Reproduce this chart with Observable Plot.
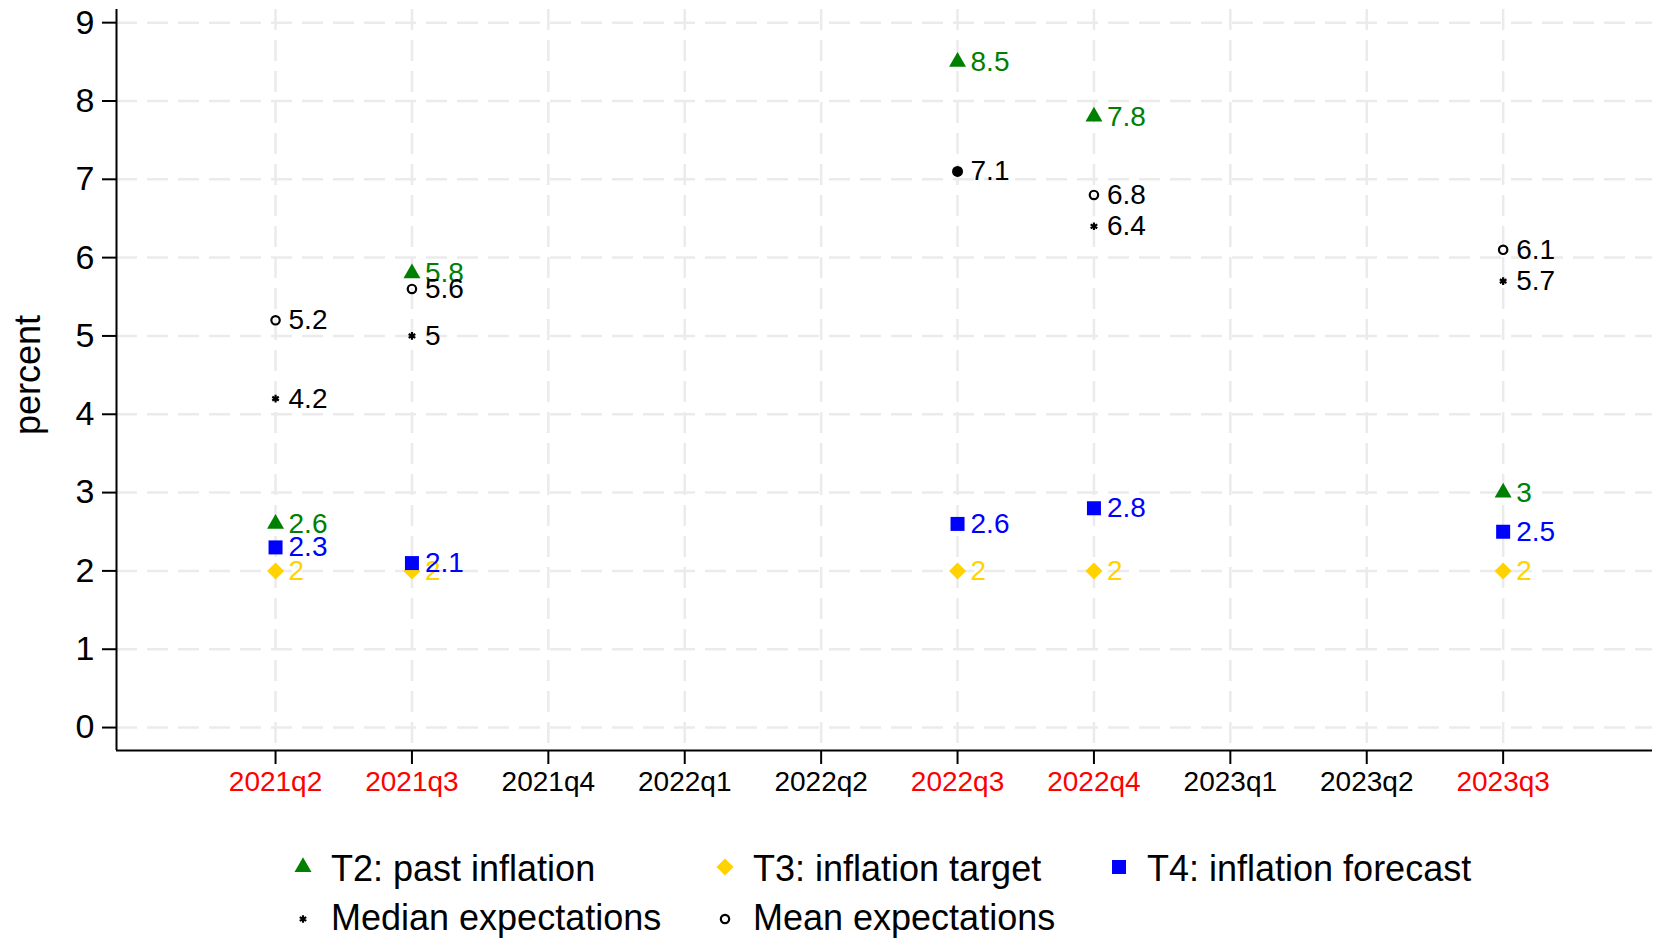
<!DOCTYPE html>
<html><head><meta charset="utf-8">
<script src="https://cdn.jsdelivr.net/npm/d3@7"></script>
<script src="https://cdn.jsdelivr.net/npm/@observablehq/plot@0.6"></script>
<style>
body{margin:0;background:#fff;font-family:"Liberation Sans",Arial,sans-serif;}
#chart svg,#legend svg{display:block}
</style></head><body><div id="chart"></div><div id="legend"></div>
<script>
// ---- data ----
const quarters = ["2021q2","2021q3","2021q4","2022q1","2022q2","2022q3","2022q4","2023q1","2023q2","2023q3"];
const surveyQuarters = ["2021q2","2021q3","2022q3","2022q4","2023q3"];
const pastInflation = [2.6, 5.8, 8.5, 7.8, 3];
const inflationTarget = [2, 2, 2, 2, 2];
const inflationForecast = [2.3, 2.1, 2.6, 2.8, 2.5];
const medianExpectations = [4.2, 5, 7.1, 6.4, 5.7];
const meanExpectations = [5.2, 5.6, 7.1, 6.8, 6.1];
const yTicks = [0,1,2,3,4,5,6,7,8,9];
const legendLabels = ["T2: past inflation","T3: inflation target","T4: inflation forecast","Median expectations","Mean expectations"];

// ---- derived tables ----
const rows = surveyQuarters.map((q, i) => ({
  q, xi: quarters.indexOf(q),
  past: pastInflation[i], target: inflationTarget[i], forecast: inflationForecast[i],
  median: medianExpectations[i], mean: meanExpectations[i]
}));
const qIdx = quarters.map((q, i) => ({q, i, survey: surveyQuarters.includes(q)}));
const xTicks = quarters.map((q, i) => i);

const GREEN = "#008000", GOLD = "#FFD200", BLUE = "#0000FF", RED = "#FF0000";
const FONT = '"Liberation Sans", Arial, sans-serif';
const xDom = [-1.166, 10.095], yDom = [-0.293, 9.168];
const grid = {stroke: "#ebebeb", strokeOpacity: 1, strokeWidth: 2.5, strokeDasharray: "21,10"};
const lab = (field, fill, extra = {}) => Plot.text(rows, {
  x: "xi", y: field, text: d => String(d[field]), fill, fontSize: 28,
  textAnchor: "start", dx: 13, ...extra
});

const chart = Plot.plot({
  width: 1658, height: 810,
  marginLeft: 116, marginRight: 6, marginTop: 9, marginBottom: 60,
  style: {fontFamily: FONT, background: "white", color: "black"},
  x: {type: "linear", domain: xDom},
  y: {type: "linear", domain: yDom},
  marks: [
    Plot.gridX({ticks: xTicks, ...grid}),
    Plot.gridY({ticks: yTicks, ...grid}),
    Plot.ruleX([xDom[0]], {stroke: "black", strokeWidth: 2}),
    Plot.ruleY([yDom[0]], {stroke: "black", strokeWidth: 2}),
    Plot.axisY({ticks: yTicks, tickSize: 14, tickPadding: 8, fontSize: 34, strokeWidth: 2, label: null}),
    Plot.axisX({ticks: xTicks, tickSize: 14, tickFormat: () => "", strokeWidth: 2, label: null}),
    Plot.text(qIdx.filter(d => d.survey), {x: "i", text: "q", frameAnchor: "bottom", dy: 40, fill: RED, fontSize: 28}),
    Plot.text(qIdx.filter(d => !d.survey), {x: "i", text: "q", frameAnchor: "bottom", dy: 40, fill: "black", fontSize: 28}),
    Plot.text(["percent"], {text: d => d, frameAnchor: "left", textAnchor: "middle", rotate: -90, dx: -88, dy: -5, fontSize: 36, fill: "black"}),
    // T2 past inflation
    Plot.dot(rows, {x: "xi", y: "past", symbol: "triangle", r: 6.3, fill: GREEN}),
    lab("past", GREEN),
    // T3 inflation target
    Plot.dot(rows, {x: "xi", y: "target", symbol: "diamond2", r: 7.66, fill: GOLD}),
    lab("target", GOLD),
    // T4 inflation forecast
    Plot.dot(rows, {x: "xi", y: "forecast", symbol: "square", r: 7.9, fill: BLUE}),
    lab("forecast", BLUE),
    // Median expectations
    Plot.dot(rows, {x: "xi", y: "median", symbol: "asterisk", r: 3.6, stroke: "black", strokeWidth: 2.2}),
    lab("median", "black", {filter: d => d.median !== d.mean}),
    // Mean expectations
    Plot.dot(rows, {x: "xi", y: "mean", symbol: "circle", r: 4.2, stroke: "black", strokeWidth: 2.2, fill: "none", filter: d => d.mean !== d.median}),
    Plot.dot(rows, {x: "xi", y: "mean", symbol: "circle", r: 5.5, fill: "black", filter: d => d.mean === d.median}),
    lab("mean", "black")
  ]
});
document.getElementById("chart").append(chart);

// ---- legend ----
const legendItems = [
  {label: legendLabels[0], sym: d3.symbolTriangle, size: 125, fill: GREEN, col: 0, row: 0},
  {label: legendLabels[1], sym: d3.symbolDiamond2, size: 184, fill: GOLD, col: 1, row: 0},
  {label: legendLabels[2], sym: d3.symbolSquare, size: 196, fill: BLUE, col: 2, row: 0},
  {label: legendLabels[3], sym: d3.symbolAsterisk, size: 40, stroke: "black", col: 0, row: 1},
  {label: legendLabels[4], sym: d3.symbolCircle, size: 55, stroke: "black", col: 1, row: 1}
];
const colMarker = [303, 725, 1119], colText = [331, 753, 1147];
const rowBase = [71, 120], rowMid = [57, 109];
const lsvg = d3.select("#legend").append("svg").attr("width", 1658).attr("height", 130)
  .style("font-family", FONT);
for (const it of legendItems) {
  lsvg.append("path")
    .attr("transform", `translate(${colMarker[it.col]},${rowMid[it.row]})`)
    .attr("d", d3.symbol(it.sym, it.size)())
    .attr("fill", it.fill || "none")
    .attr("stroke", it.stroke || "none")
    .attr("stroke-width", it.stroke ? 2.2 : 0);
  lsvg.append("text").attr("x", colText[it.col]).attr("y", rowBase[it.row])
    .attr("font-size", 36).attr("fill", "black").text(it.label);
}
</script></body></html>
